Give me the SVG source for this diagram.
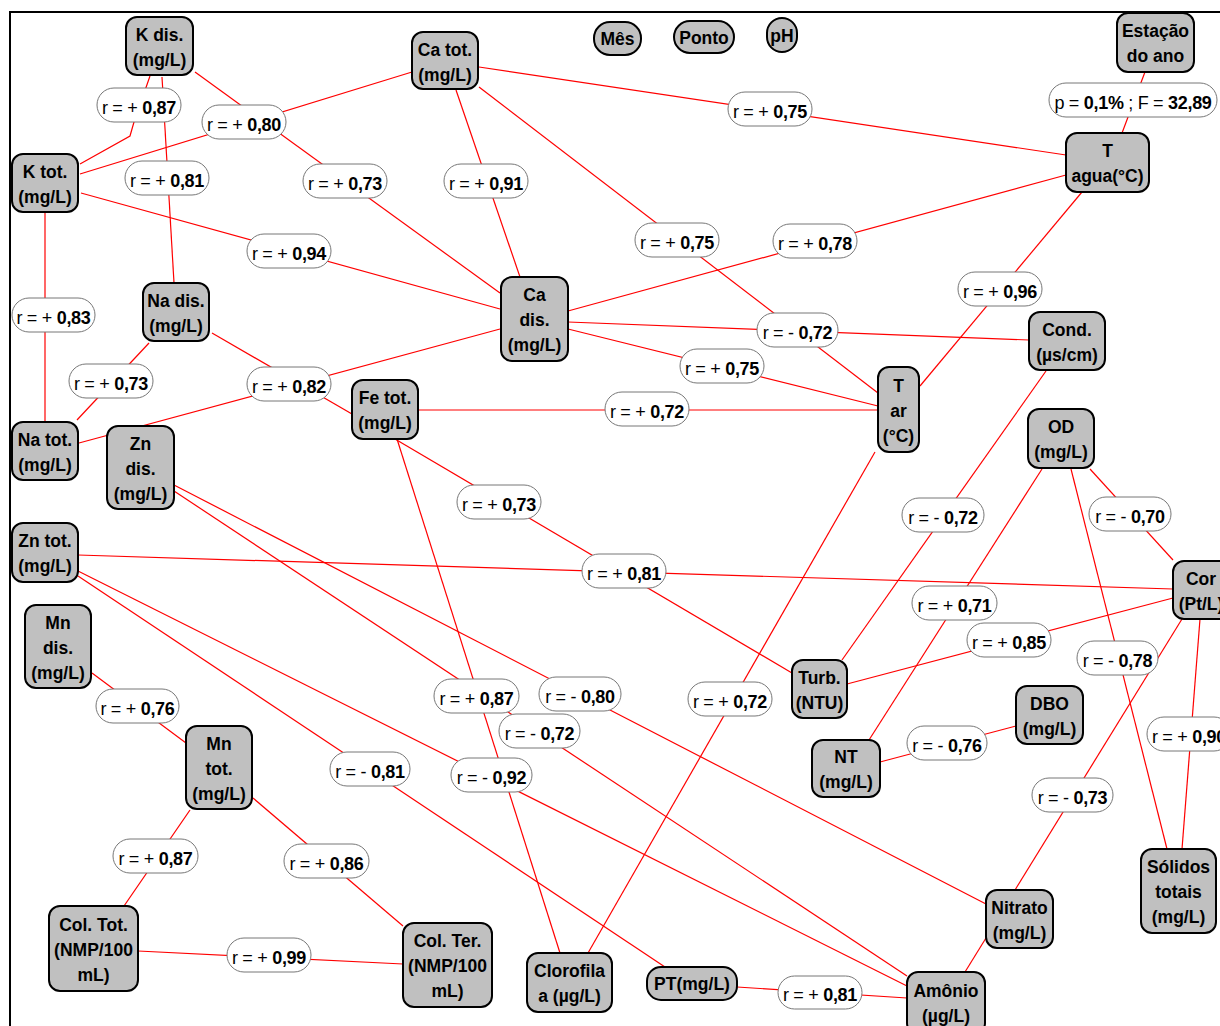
<svg xmlns="http://www.w3.org/2000/svg" width="1220" height="1026" viewBox="0 0 1220 1026">
<style>
.n rect{fill:#C0C0C0;stroke:#000;stroke-width:2}
.n text{font-family:"Liberation Sans",Arial,sans-serif;font-weight:bold;font-size:17.5px;text-anchor:middle;fill:#000}
.e line,.e polyline{stroke:#FF0000;stroke-width:1.2;fill:none}
.l rect{fill:#fff;stroke:#777;stroke-width:1}
.l text{font-family:"Liberation Sans",Arial,sans-serif;font-size:18px;letter-spacing:-0.3px;text-anchor:middle;fill:#000;white-space:pre}
.b{font-weight:bold}
</style>
<rect x="0" y="0" width="1220" height="1026" fill="#fff"/>
<path d="M10 1026 V12 H1220" fill="none" stroke="#000" stroke-width="2"/>
<g id="connectors" class="e">
<polyline points="150,76 134,122 130,136 80,164"/>
<line x1="162" y1="77" x2="174" y2="283"/>
<line x1="412" y1="72" x2="80" y2="174"/>
<line x1="195" y1="72" x2="500" y2="293"/>
<line x1="81" y1="193" x2="500" y2="309"/>
<line x1="45" y1="212" x2="45" y2="422"/>
<line x1="149" y1="343" x2="77" y2="420"/>
<line x1="212" y1="333" x2="352" y2="414"/>
<line x1="500" y1="329" x2="79" y2="443"/>
<line x1="456" y1="90" x2="520" y2="277"/>
<line x1="479" y1="67" x2="1066" y2="155"/>
<line x1="479" y1="87" x2="878" y2="393"/>
<line x1="568" y1="311" x2="1066" y2="175"/>
<line x1="568" y1="322" x2="1029" y2="340"/>
<line x1="568" y1="329" x2="878" y2="406"/>
<line x1="418" y1="410" x2="878" y2="410"/>
<line x1="1082" y1="192" x2="920" y2="386"/>
<line x1="875" y1="452" x2="588" y2="953"/>
<line x1="1046" y1="371" x2="842" y2="660"/>
<line x1="1042" y1="469" x2="869" y2="740"/>
<line x1="1071" y1="469" x2="1167" y2="849"/>
<line x1="1090" y1="469" x2="1173" y2="560"/>
<line x1="78" y1="555" x2="1173" y2="589"/>
<line x1="395" y1="439" x2="792" y2="673"/>
<line x1="397" y1="439" x2="560" y2="953"/>
<line x1="174" y1="491" x2="907" y2="976"/>
<line x1="174" y1="485" x2="986" y2="904"/>
<line x1="78" y1="571" x2="907" y2="986"/>
<line x1="78" y1="576" x2="665" y2="967"/>
<line x1="92" y1="673" x2="186" y2="743"/>
<line x1="190" y1="810" x2="124" y2="906"/>
<line x1="253" y1="798" x2="403" y2="926"/>
<line x1="138" y1="951" x2="403" y2="964"/>
<line x1="737" y1="987" x2="907" y2="998"/>
<line x1="1182" y1="619" x2="1015" y2="890"/>
<line x1="1200" y1="619" x2="1182" y2="849"/>
<line x1="1173" y1="598" x2="847" y2="684"/>
<line x1="880" y1="762" x2="1016" y2="726"/>
<line x1="986" y1="938" x2="965" y2="972"/>
<line x1="1145" y1="72" x2="1122" y2="133"/>
</g>
<g id="labels" class="l">
<g><rect x="97" y="88" width="84" height="34" rx="17"/><text x="139" y="113.5">r = + <tspan class="b">0,87</tspan></text></g>
<g><rect x="202" y="105" width="84" height="34" rx="17"/><text x="244" y="130.5">r = + <tspan class="b">0,80</tspan></text></g>
<g><rect x="125" y="161" width="84" height="34" rx="17"/><text x="167" y="186.5">r = + <tspan class="b">0,81</tspan></text></g>
<g><rect x="303" y="164" width="84" height="34" rx="17"/><text x="345" y="189.5">r = + <tspan class="b">0,73</tspan></text></g>
<g><rect x="247" y="234" width="84" height="34" rx="17"/><text x="289" y="259.5">r = + <tspan class="b">0,94</tspan></text></g>
<g><rect x="728" y="92" width="84" height="34" rx="17"/><text x="770" y="117.5">r = + <tspan class="b">0,75</tspan></text></g>
<g><rect x="444" y="164" width="84" height="34" rx="17"/><text x="486" y="189.5">r = + <tspan class="b">0,91</tspan></text></g>
<g><rect x="635" y="223" width="84" height="34" rx="17"/><text x="677" y="248.5">r = + <tspan class="b">0,75</tspan></text></g>
<g><rect x="773" y="224" width="84" height="34" rx="17"/><text x="815" y="249.5">r = + <tspan class="b">0,78</tspan></text></g>
<g><rect x="1049" y="83" width="168" height="34" rx="17"/><text x="1133" y="108.5">p = <tspan class="b">0,1%</tspan> ; F = <tspan class="b">32,89</tspan></text></g>
<g><rect x="958" y="272" width="84" height="34" rx="17"/><text x="1000" y="297.5">r = + <tspan class="b">0,96</tspan></text></g>
<g><rect x="757" y="313" width="81" height="34" rx="17"/><text x="797.5" y="338.5">r = - <tspan class="b">0,72</tspan></text></g>
<g><rect x="12" y="298" width="83" height="34" rx="17"/><text x="53.5" y="323.5">r = + <tspan class="b">0,83</tspan></text></g>
<g><rect x="69" y="364" width="84" height="34" rx="17"/><text x="111" y="389.5">r = + <tspan class="b">0,73</tspan></text></g>
<g><rect x="247" y="367" width="84" height="34" rx="17"/><text x="289" y="392.5">r = + <tspan class="b">0,82</tspan></text></g>
<g><rect x="680" y="349" width="84" height="34" rx="17"/><text x="722" y="374.5">r = + <tspan class="b">0,75</tspan></text></g>
<g><rect x="605" y="392" width="84" height="34" rx="17"/><text x="647" y="417.5">r = + <tspan class="b">0,72</tspan></text></g>
<g><rect x="457" y="485" width="84" height="34" rx="17"/><text x="499" y="510.5">r = + <tspan class="b">0,73</tspan></text></g>
<g><rect x="902" y="498" width="82" height="34" rx="17"/><text x="943" y="523.5">r = - <tspan class="b">0,72</tspan></text></g>
<g><rect x="1089" y="497" width="82" height="34" rx="17"/><text x="1130" y="522.5">r = - <tspan class="b">0,70</tspan></text></g>
<g><rect x="582" y="554" width="84" height="34" rx="17"/><text x="624" y="579.5">r = + <tspan class="b">0,81</tspan></text></g>
<g><rect x="434" y="679" width="85" height="34" rx="17"/><text x="476.5" y="704.5">r = + <tspan class="b">0,87</tspan></text></g>
<g><rect x="539" y="677" width="82" height="34" rx="17"/><text x="580" y="702.5">r = - <tspan class="b">0,80</tspan></text></g>
<g><rect x="499" y="714" width="81" height="34" rx="17"/><text x="539.5" y="739.5">r = - <tspan class="b">0,72</tspan></text></g>
<g><rect x="688" y="682" width="84" height="34" rx="17"/><text x="730" y="707.5">r = + <tspan class="b">0,72</tspan></text></g>
<g><rect x="451" y="758" width="81" height="34" rx="17"/><text x="491.5" y="783.5">r = - <tspan class="b">0,92</tspan></text></g>
<g><rect x="912" y="586" width="85" height="34" rx="17"/><text x="954.5" y="611.5">r = + <tspan class="b">0,71</tspan></text></g>
<g><rect x="967" y="623" width="84" height="34" rx="17"/><text x="1009" y="648.5">r = + <tspan class="b">0,85</tspan></text></g>
<g><rect x="1077" y="641" width="81" height="34" rx="17"/><text x="1117.5" y="666.5">r = - <tspan class="b">0,78</tspan></text></g>
<g><rect x="1147" y="717" width="84" height="34" rx="17"/><text x="1189" y="742.5">r = + <tspan class="b">0,90</tspan></text></g>
<g><rect x="907" y="726" width="80" height="34" rx="17"/><text x="947" y="751.5">r = - <tspan class="b">0,76</tspan></text></g>
<g><rect x="96" y="689" width="83" height="34" rx="17"/><text x="137.5" y="714.5">r = + <tspan class="b">0,76</tspan></text></g>
<g><rect x="330" y="752" width="80" height="34" rx="17"/><text x="370" y="777.5">r = - <tspan class="b">0,81</tspan></text></g>
<g><rect x="113" y="839" width="85" height="34" rx="17"/><text x="155.5" y="864.5">r = + <tspan class="b">0,87</tspan></text></g>
<g><rect x="284" y="844" width="85" height="34" rx="17"/><text x="326.5" y="869.5">r = + <tspan class="b">0,86</tspan></text></g>
<g><rect x="227" y="938" width="84" height="34" rx="17"/><text x="269" y="963.5">r = + <tspan class="b">0,99</tspan></text></g>
<g><rect x="1032" y="778" width="81" height="34" rx="17"/><text x="1072.5" y="803.5">r = - <tspan class="b">0,73</tspan></text></g>
<g><rect x="778" y="976" width="84" height="33" rx="16.5"/><text x="820" y="1000.5">r = + <tspan class="b">0,81</tspan></text></g>
</g>
<g id="kdis" class="n"><rect x="126" y="17" width="67" height="58" rx="11"/><text x="159.5" y="40.5">K dis.</text><text x="159.5" y="65.5">(mg/L)</text></g>
<g id="catot" class="n"><rect x="412" y="32" width="66" height="57" rx="11"/><text x="445" y="55.5">Ca tot.</text><text x="445" y="80.5">(mg/L)</text></g>
<g id="mes" class="n"><rect x="594" y="22" width="47" height="33" rx="16"/><text x="617.5" y="45">Mês</text></g>
<g id="ponto" class="n"><rect x="674" y="21" width="60" height="32" rx="16"/><text x="704" y="43.5">Ponto</text></g>
<g id="ph" class="n"><rect x="767" y="18" width="30" height="34" rx="15"/><text x="782" y="41.5">pH</text></g>
<g id="estacao" class="n"><rect x="1117" y="13" width="77" height="59" rx="11"/><text x="1155.5" y="37">Estação</text><text x="1155.5" y="62">do ano</text></g>
<g id="tagua" class="n"><rect x="1066" y="133" width="83" height="59" rx="11"/><text x="1107.5" y="157">T</text><text x="1107.5" y="182">agua(°C)</text></g>
<g id="ktot" class="n"><rect x="12" y="154" width="66" height="58" rx="11"/><text x="45" y="177.5">K tot.</text><text x="45" y="202.5">(mg/L)</text></g>
<g id="cadis" class="n"><rect x="501" y="277" width="67" height="84" rx="11"/><text x="534.5" y="301">Ca</text><text x="534.5" y="326">dis.</text><text x="534.5" y="351">(mg/L)</text></g>
<g id="nadis" class="n"><rect x="143" y="283" width="66" height="58" rx="11"/><text x="176" y="306.5">Na dis.</text><text x="176" y="331.5">(mg/L)</text></g>
<g id="natot" class="n"><rect x="12" y="422" width="66" height="58" rx="11"/><text x="45" y="445.5">Na tot.</text><text x="45" y="470.5">(mg/L)</text></g>
<g id="zndis" class="n"><rect x="107" y="426" width="67" height="83" rx="11"/><text x="140.5" y="449.5">Zn</text><text x="140.5" y="474.5">dis.</text><text x="140.5" y="499.5">(mg/L)</text></g>
<g id="fetot" class="n"><rect x="352" y="380" width="66" height="59" rx="11"/><text x="385" y="404">Fe tot.</text><text x="385" y="429">(mg/L)</text></g>
<g id="tar" class="n"><rect x="878" y="367" width="41" height="85" rx="11"/><text x="898.5" y="391.5">T</text><text x="898.5" y="416.5">ar</text><text x="898.5" y="441.5">(°C)</text></g>
<g id="cond" class="n"><rect x="1029" y="312" width="76" height="58" rx="11"/><text x="1067" y="335.5">Cond.</text><text x="1067" y="360.5">(µs/cm)</text></g>
<g id="od" class="n"><rect x="1028" y="409" width="66" height="59" rx="11"/><text x="1061" y="433">OD</text><text x="1061" y="458">(mg/L)</text></g>
<g id="zntot" class="n"><rect x="12" y="523" width="66" height="59" rx="11"/><text x="45" y="547">Zn tot.</text><text x="45" y="572">(mg/L)</text></g>
<g id="mndis" class="n"><rect x="25" y="605" width="66" height="83" rx="11"/><text x="58" y="628.5">Mn</text><text x="58" y="653.5">dis.</text><text x="58" y="678.5">(mg/L)</text></g>
<g id="mntot" class="n"><rect x="186" y="726" width="66" height="83" rx="11"/><text x="219" y="749.5">Mn</text><text x="219" y="774.5">tot.</text><text x="219" y="799.5">(mg/L)</text></g>
<g id="cor" class="n"><rect x="1173" y="561" width="60" height="58" rx="11"/><text x="1201" y="584.5">Cor</text><text x="1201" y="609.5">(Pt/L)</text></g>
<g id="turb" class="n"><rect x="792" y="660" width="55" height="58" rx="11"/><text x="819.5" y="683.5">Turb.</text><text x="819.5" y="708.5">(NTU)</text></g>
<g id="nt" class="n"><rect x="812" y="740" width="68" height="57" rx="11"/><text x="846" y="763">NT</text><text x="846" y="788">(mg/L)</text></g>
<g id="dbo" class="n"><rect x="1016" y="686" width="67" height="58" rx="11"/><text x="1049.5" y="709.5">DBO</text><text x="1049.5" y="734.5">(mg/L)</text></g>
<g id="coltot" class="n"><rect x="49" y="906" width="89" height="85" rx="11"/><text x="93.5" y="930.5">Col. Tot.</text><text x="93.5" y="955.5">(NMP/100</text><text x="93.5" y="980.5">mL)</text></g>
<g id="colter" class="n"><rect x="403" y="923" width="89" height="84" rx="11"/><text x="447.5" y="947">Col. Ter.</text><text x="447.5" y="972">(NMP/100</text><text x="447.5" y="997">mL)</text></g>
<g id="clorofila" class="n"><rect x="527" y="953" width="85" height="59" rx="11"/><text x="569.5" y="977">Clorofila</text><text x="569.5" y="1002">a (µg/L)</text></g>
<g id="pt" class="n"><rect x="647" y="967" width="90" height="33" rx="14"/><text x="692" y="990">PT(mg/L)</text></g>
<g id="nitrato" class="n"><rect x="986" y="890" width="67" height="58" rx="11"/><text x="1019.5" y="913.5">Nitrato</text><text x="1019.5" y="938.5">(mg/L)</text></g>
<g id="amonio" class="n"><rect x="907" y="972" width="78" height="62" rx="11"/><text x="946" y="997">Amônio</text><text x="946" y="1022">(µg/L)</text></g>
<g id="solidos" class="n"><rect x="1141" y="849" width="75" height="84" rx="11"/><text x="1178.5" y="873">Sólidos</text><text x="1178.5" y="898">totais</text><text x="1178.5" y="923">(mg/L)</text></g>
</svg>
